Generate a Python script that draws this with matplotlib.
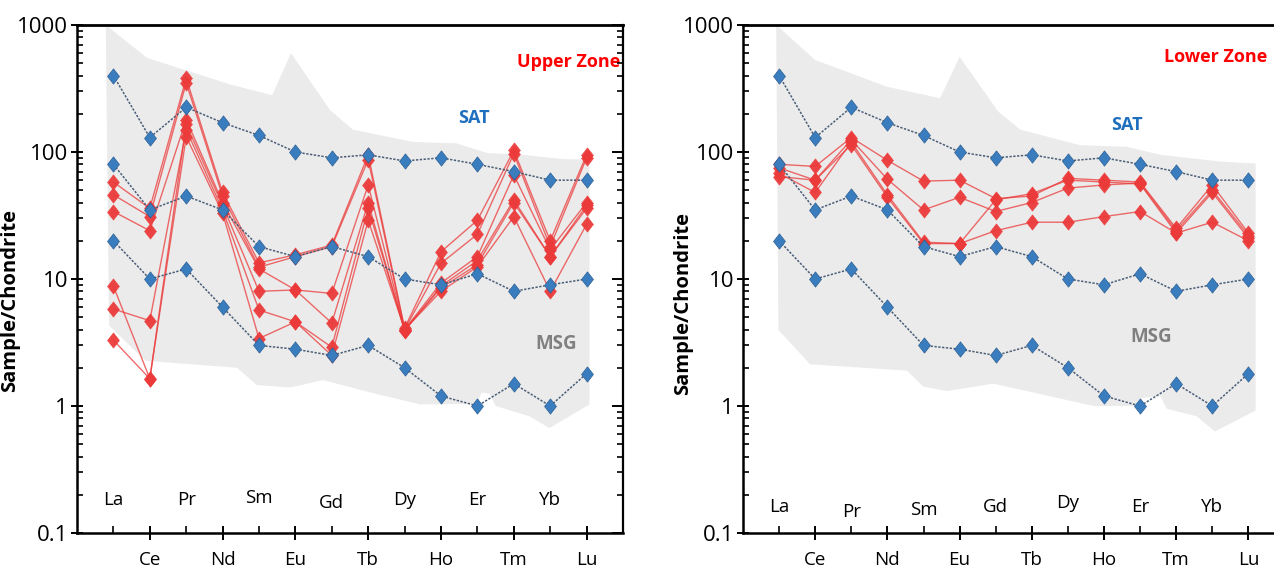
import matplotlib.pyplot as plt
import numpy as np
from matplotlib.path import Path
from matplotlib.ticker import FixedLocator, FuncFormatter, NullFormatter

plt.rcParams["font.family"] = ["Open Sans", "DejaVu Sans"]

ELEMENTS = ["La", "Ce", "Pr", "Nd", "Sm", "Eu", "Gd", "Tb", "Dy", "Ho", "Er", "Tm", "Yb", "Lu"]

# SAT reference patterns (same in both panels)
sat_high = [400, 130, 225, 170, 135, 100, 90, 95, 85, 90, 80, 70, 60, 60]
sat_mid = [80, 35, 45, 35, 18, 15, 18, 15, 10, 9, 11, 8, 9, 10]
sat_low = [20, 10, 12, 6, 3, 2.8, 2.5, 3, 2, 1.2, 1.0, 1.5, 1.0, 1.8]

# Upper Zone samples
upper_1 = [58, 36, 380, 48, 13.4, 15.5, 18.5, 95, 4.1, 16.4, 29, 103, 20, 95]
upper_2 = [46, 31, 350, 45, 12.4, 15, 18, 87, 4.0, 13.3, 22.5, 97, 18, 90]
upper_3 = [34, 24, 180, 40, 12, 8.2, 7.7, 55, 4.0, 9.3, 15, 66, 17, 40]
upper_4 = [8.8, 1.64, 165, 38, 8, 8.2, 4.5, 40, 3.9, 8.8, 14, 42, 15, 38]
upper_5 = [5.8, 4.7, 150, 35, 5.7, 4.6, 2.9, 36, 4.0, 8.5, 13, 40, 15, 36]
upper_6 = [3.3, 1.64, 132, 33, 3.4, 4.6, 2.5, 29, 4.0, 8.0, 12.5, 31, 8, 27]

# Lower Zone samples
lower_1 = [80, 77, 130, 86, 59, 60, 43, 45, 62, 60, 58, 25, 55, 23]
lower_2 = [75, 60, 125, 61, 35, 44, 34, 40, 52, 55, 57, 24, 50, 22]
lower_3 = [68, 48, 120, 46, 19.5, 19, 24, 28, 28, 31, 34, 23, 28, 20]
lower_4 = [64, 60, 114, 44, 19, 19, 42, 47, 60, 58, 56, 23, 48, 21]

# MSG envelope (x in element positions, La = 1)
msg_up_x_left = [0.79, 1.93, 4.21, 5.36, 5.88, 6.95, 7.58, 9.23, 10.42, 11.28, 12.24, 13.34, 14.08]
msg_up_y_left = [1000, 550, 340, 280, 600, 214, 150, 120, 117, 98, 95, 88, 87]
msg_lo_x_left = [0.88, 1.88, 4.4, 4.94, 5.86, 6.76, 8.05, 9.42, 10.97, 11.12, 11.33, 11.5, 12.43, 12.98, 14.08]
msg_lo_y_left = [4.3, 2.27, 2.0, 1.46, 1.4, 1.6, 1.28, 1.03, 1.04, 1.28, 1.25, 1.0, 0.83, 0.67, 1.03]

msg_up_x_right = [0.92, 2.0, 3.98, 5.46, 6.0, 7.07, 7.68, 9.34, 10.63, 11.56, 13.24, 14.2]
msg_up_y_right = [1000, 530, 327, 265, 562, 208, 150, 113, 110, 95, 84, 81]
msg_lo_x_right = [0.98, 1.86, 4.54, 5.0, 5.65, 6.94, 9.71, 10.9, 11.0, 11.56, 11.74, 12.57, 13.07, 14.2]
msg_lo_y_right = [3.97, 2.13, 1.9, 1.42, 1.31, 1.5, 1.0, 1.0, 1.15, 1.2, 0.95, 0.83, 0.63, 0.92]

DIAMOND = Path([(0, 1), (0.78, 0), (0, -1), (-0.78, 0), (0, 1)], closed=True)
BLUE_FACE = "#3A7DBE"
BLUE_EDGE = "#2C5F94"
BLUE_LINE = "#4A5D78"
RED = "#EC3A3A"
GREY = "#EBEBEB"


def draw_panel(ax, samples, env, zone, texts, top_labels_y, right_ticks, ylabel_xy):
    x = np.arange(1, len(ELEMENTS) + 1)
    up_x, up_y, lo_x, lo_y = env
    poly_x = list(up_x) + list(lo_x)[::-1]
    poly_y = list(up_y) + list(lo_y)[::-1]
    ax.fill(poly_x, poly_y, color=GREY, lw=0, zorder=1)

    for s in samples:
        ax.plot(x, s, color=RED, lw=1.0, alpha=0.75, zorder=2)
        ax.plot(x, s, ls="none", marker=DIAMOND, ms=11, mfc=RED, mec=RED,
                mew=0.4, alpha=0.95, zorder=3)

    for s in [sat_high, sat_mid, sat_low]:
        ax.plot(x, s, color=BLUE_LINE, lw=1.1, ls=(0, (1.5, 1.0)), zorder=4)
        ax.plot(x, s, ls="none", marker=DIAMOND, ms=11, mfc=BLUE_FACE,
                mec=BLUE_EDGE, mew=0.5, zorder=5)

    ax.set_yscale("log")
    ax.set_ylim(0.1, 1000)
    ax.set_xlim(0, 15)

    ax.yaxis.set_major_locator(FixedLocator([0.1, 1, 10, 100, 1000]))
    ax.yaxis.set_major_formatter(FuncFormatter(lambda v, p: f"{v:g}"))
    minors = [m * 10.0 ** e for e in range(-1, 3) for m in range(2, 10)]
    ax.yaxis.set_minor_locator(FixedLocator(minors))
    ax.yaxis.set_minor_formatter(NullFormatter())

    ax.xaxis.set_major_locator(FixedLocator(x[1::2]))
    ax.set_xticklabels(ELEMENTS[1::2])
    ax.xaxis.set_minor_locator(FixedLocator(x[0::2]))
    ax.xaxis.set_minor_formatter(NullFormatter())

    ax.tick_params(axis="y", which="major", direction="inout", length=9,
                   width=1.4, labelsize=16, pad=2)
    ax.tick_params(axis="y", which="minor", direction="in", length=4, width=1.2)
    ax.tick_params(axis="x", which="major", direction="inout", length=10,
                   width=1.4, labelsize=13.5, pad=8)
    ax.tick_params(axis="x", which="minor", direction="in", length=5, width=1.2)

    for name, xi, fy in zip(ELEMENTS[0::2], x[0::2], top_labels_y):
        ax.text(xi, fy, name, transform=ax.get_xaxis_transform(), ha="center",
                va="center", fontsize=13.5)

    for side in ["left", "bottom"]:
        ax.spines[side].set_linewidth(1.8)
    ax.spines["top"].set_linewidth(2.0)
    ax.spines["right"].set_linewidth(1.6)

    if right_ticks:
        tw = ax.twinx()
        tw.set_yscale("log")
        tw.set_ylim(0.1, 1000)
        tw.yaxis.set_major_locator(FixedLocator([0.1, 1, 10, 100, 1000]))
        tw.yaxis.set_minor_locator(FixedLocator(minors))
        tw.yaxis.set_major_formatter(NullFormatter())
        tw.yaxis.set_minor_formatter(NullFormatter())
        tw.tick_params(which="major", direction="in", length=8, width=1.4)
        tw.tick_params(which="minor", direction="in", length=4, width=1.2)
        for sp in tw.spines.values():
            sp.set_visible(False)

    ax.set_ylabel("Sample/Chondrite", fontsize=14.5, fontweight="bold")
    ax.yaxis.set_label_coords(*ylabel_xy)

    (zx, zy), (sx, sy), (mx, my) = texts
    ax.text(zx, zy, zone, color="#FF0000", fontsize=13, fontweight="bold",
            ha="center", va="center", zorder=6)
    ax.text(sx, sy, "SAT", color="#1F6FBF", fontsize=13, fontweight="bold",
            ha="left", va="center", zorder=6)
    ax.text(mx, my, "MSG", color="#808080", fontsize=13.5, fontweight="bold",
            ha="left", va="center", zorder=6)


fig = plt.figure(figsize=(12.74, 5.72), dpi=100)
ax1 = fig.add_axes([77 / 1274, 39 / 572, 546 / 1274, 508 / 572])
ax2 = fig.add_axes([743 / 1274, 39 / 572, 541.5 / 1274, 508 / 572])

draw_panel(
    ax1,
    [upper_1, upper_2, upper_3, upper_4, upper_5, upper_6],
    (msg_up_x_left, msg_up_y_left, msg_lo_x_left, msg_lo_y_left),
    "Upper Zone",
    [(13.5, 512), (10.46, 185), (12.59, 3.08)],
    [0.065, 0.065, 0.069, 0.059, 0.065, 0.065, 0.065],
    True,
    (-0.104, 0.457),
)
draw_panel(
    ax2,
    [lower_1, lower_2, lower_3, lower_4],
    (msg_up_x_right, msg_up_y_right, msg_lo_x_right, msg_lo_y_right),
    "Lower Zone",
    [(13.1, 560), (10.2, 163), (10.74, 3.5)],
    [0.051, 0.041, 0.045, 0.051, 0.059, 0.051, 0.051],
    False,
    (-0.092, 0.451),
)

fig.savefig("out.png", dpi=100)
